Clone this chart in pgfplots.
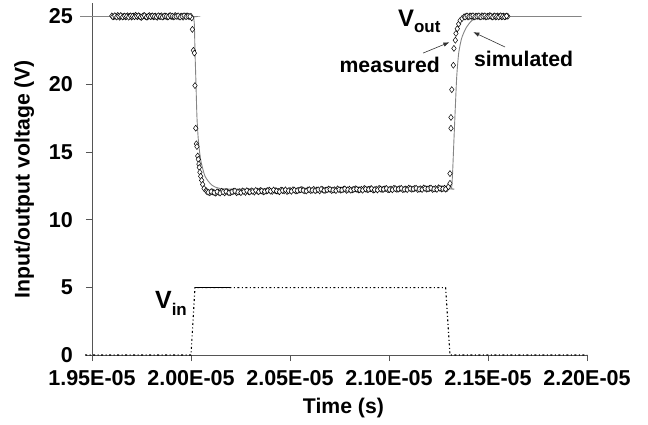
\documentclass[border=0pt]{standalone}
\usepackage{pgfplots}
\pgfplotsset{compat=1.18}
\usepackage{fontspec}
\setmainfont{Liberation Sans}
\usetikzlibrary{arrows.meta}
\definecolor{simgray}{HTML}{858585}
\definecolor{axgray}{HTML}{555555}
\begin{document}
\begin{tikzpicture}
\useasboundingbox (-92bp,-70bp) rectangle (556bp,355bp);
\begin{axis}[
  at={(0,0)}, anchor=south west,
  scale only axis, width=495bp, height=352bp,
  xmin=19.5, xmax=22.0, ymin=0, ymax=26,
  axis lines*=left,
  axis line style={axgray, line width=0.8bp},
  clip=false,
  xtick={19.5,20.0,20.5,21.0,21.5,22.0},
  xticklabels={1.95E-05,2.00E-05,2.05E-05,2.10E-05,2.15E-05,2.20E-05},
  ytick={0,5,10,15,20,25},
  tick align=outside,
  major tick length=6bp,
  tick style={axgray, line width=0.8bp},
  /pgf/number format/assume math mode=true,
  ticklabel style={font=\fontsize{21.6}{25}\selectfont\bfseries},
  xticklabel style={anchor=north, inner sep=0pt, yshift=-9bp},
  yticklabel style={anchor=east, inner sep=0pt, xshift=-13bp},
  xlabel={Time (s)},
  ylabel={Input/output voltage (V)},
  label style={font=\fontsize{21.3}{25}\selectfont\bfseries},
  xlabel style={at={(axis description cs:0.508,-0.150)}, anchor=center},
  ylabel style={at={(axis description cs:-0.137,0.50)}, anchor=center, rotate=0},
]
% measured Vout (diamonds)
\addplot[only marks, mark=diamond*, mark size=3bp,
  mark options={draw=black, fill=white, line width=0.5bp}] coordinates {
(19.600,25.05) (19.610,24.98) (19.620,25.02) (19.630,25.08) (19.640,24.95)
(19.650,25.03) (19.660,25.00) (19.670,24.97) (19.680,25.06) (19.690,25.01)
(19.700,24.96) (19.710,25.04) (19.720,25.09) (19.730,24.99) (19.740,25.02)
(19.750,24.94) (19.760,25.05) (19.770,25.00) (19.780,24.97) (19.790,25.07)
(19.800,25.02) (19.810,24.98) (19.820,25.04) (19.830,24.95) (19.840,25.01)
(19.850,25.06) (19.860,24.99) (19.870,25.03) (19.880,24.96) (19.890,25.05)
(19.900,25.00) (19.910,24.97) (19.920,25.08) (19.930,25.02) (19.940,24.98)
(19.950,25.04) (19.960,24.95) (19.970,25.03) (19.980,25.06) (19.990,24.99)
(20.000,25.02) (20.004,24.90)
(19.605,24.99) (19.615,25.06) (19.625,24.96) (19.635,25.03) (19.645,25.07)
(19.655,24.97) (19.665,25.04) (19.675,25.01) (19.685,24.95) (19.695,25.05)
(19.705,25.02) (19.715,24.98) (19.725,25.03) (19.735,25.06) (19.745,24.97)
(19.755,25.01) (19.765,25.07) (19.775,24.96) (19.785,25.03) (19.795,24.99)
(19.805,25.05) (19.815,25.01) (19.825,24.97) (19.835,25.06) (19.845,25.00)
(19.855,24.96) (19.865,25.04) (19.875,25.02) (19.885,24.98) (19.895,25.07)
(19.905,25.03) (19.915,24.99) (19.925,25.01) (19.935,25.05) (19.945,24.96)
(19.955,25.02) (19.965,25.06) (19.975,24.98) (19.985,25.03) (19.995,25.01)
(20.007,24.05) (20.012,22.50) (20.017,22.30) (20.020,19.90) (20.024,16.75)
(20.027,15.60) (20.030,15.40) (20.034,14.70) (20.037,14.45) (20.040,14.10)
(20.042,13.85) (20.045,13.50) (20.049,13.20) (20.054,12.90) (20.059,12.60)
(20.066,12.30) (20.076,12.15)
(20.080,12.08) (20.095,11.98) (20.110,12.05) (20.125,11.95) (20.140,12.02)
(20.155,12.10) (20.170,11.97) (20.185,12.04) (20.200,12.00) (20.215,12.09)
(20.230,11.99) (20.245,12.06) (20.260,12.12) (20.275,12.01) (20.290,12.07)
(20.305,12.13) (20.320,12.03) (20.335,12.10) (20.350,12.15) (20.365,12.05)
(20.380,12.11) (20.395,12.18) (20.410,12.08) (20.425,12.14) (20.440,12.09)
(20.455,12.19) (20.470,12.12) (20.485,12.07) (20.500,12.16) (20.515,12.21)
(20.530,12.11) (20.545,12.17) (20.560,12.23) (20.575,12.13) (20.590,12.19)
(20.605,12.14) (20.620,12.24) (20.635,12.18) (20.650,12.12) (20.665,12.22)
(20.680,12.17) (20.695,12.26) (20.710,12.15) (20.725,12.21) (20.740,12.27)
(20.755,12.18) (20.770,12.24) (20.785,12.16) (20.800,12.25) (20.815,12.20)
(20.830,12.28) (20.845,12.19) (20.860,12.24) (20.875,12.30) (20.890,12.21)
(20.905,12.27) (20.920,12.18) (20.935,12.25) (20.950,12.31) (20.965,12.22)
(20.980,12.28) (20.995,12.20) (21.010,12.26) (21.025,12.32) (21.040,12.23)
(21.055,12.29) (21.070,12.21) (21.085,12.27) (21.100,12.33) (21.115,12.24)
(21.130,12.30) (21.145,12.22) (21.160,12.28) (21.175,12.34) (21.190,12.25)
(21.205,12.31) (21.220,12.23) (21.235,12.29) (21.250,12.35) (21.265,12.26)
(21.280,12.32) (21.292,12.28)
(20.087,12.02) (20.102,12.07) (20.117,11.99) (20.132,12.06) (20.147,11.96)
(20.162,12.04) (20.177,12.08) (20.192,11.98) (20.207,12.05) (20.222,12.11)
(20.237,12.03) (20.252,11.99) (20.267,12.08) (20.282,12.14) (20.297,12.04)
(20.312,12.09) (20.327,12.16) (20.342,12.06) (20.357,12.12) (20.372,12.08)
(20.387,12.14) (20.402,12.10) (20.417,12.19) (20.432,12.12) (20.447,12.06)
(20.462,12.15) (20.477,12.20) (20.492,12.13) (20.507,12.09) (20.522,12.18)
(20.537,12.14) (20.552,12.20) (20.567,12.16) (20.582,12.11) (20.597,12.22)
(20.612,12.17) (20.627,12.13) (20.642,12.21) (20.657,12.25) (20.672,12.15)
(20.687,12.20) (20.702,12.23) (20.717,12.18) (20.732,12.14) (20.747,12.22)
(20.762,12.19) (20.777,12.27) (20.792,12.21) (20.807,12.17) (20.822,12.23)
(20.837,12.25) (20.852,12.20) (20.867,12.17) (20.882,12.26) (20.897,12.23)
(20.912,12.29) (20.927,12.21) (20.942,12.19) (20.957,12.26) (20.972,12.24)
(20.987,12.30) (21.002,12.22) (21.017,12.20) (21.032,12.28) (21.047,12.25)
(21.062,12.31) (21.077,12.24) (21.092,12.21) (21.107,12.29) (21.122,12.26)
(21.137,12.32) (21.152,12.25) (21.167,12.22) (21.182,12.30) (21.197,12.27)
(21.212,12.33) (21.227,12.26) (21.242,12.23) (21.257,12.31) (21.272,12.28)
(21.286,12.25)
(21.300,12.43) (21.308,12.68) (21.308,13.40) (21.313,16.75) (21.313,17.55)
(21.317,19.60) (21.325,21.40) (21.328,22.65) (21.335,23.25) (21.338,23.75)
(21.345,24.10) (21.352,24.45) (21.359,24.70) (21.369,24.85) (21.379,24.98)
(21.389,25.02) (21.399,24.97) (21.409,25.05) (21.419,25.00) (21.429,24.96)
(21.439,25.04) (21.449,25.01) (21.459,24.98) (21.469,25.06) (21.479,25.00)
(21.489,24.97) (21.499,25.03) (21.509,25.07) (21.519,24.99) (21.529,25.02)
(21.539,24.96) (21.549,25.05) (21.559,25.01) (21.569,24.98) (21.579,25.04)
(21.589,25.00) (21.600,25.02)
(21.384,24.96) (21.394,25.05) (21.404,24.99) (21.414,25.03) (21.424,25.06)
(21.434,24.98) (21.444,25.02) (21.454,25.05) (21.464,24.97) (21.474,25.03)
(21.484,25.06) (21.494,24.99) (21.504,25.01) (21.514,25.04) (21.524,24.97)
(21.534,25.05) (21.544,25.00) (21.554,24.97) (21.564,25.06) (21.574,25.01)
(21.584,24.98) (21.594,25.04)
};
% simulated Vout
\addplot[simgray, line width=0.9bp, smooth, tension=0.4] coordinates {
(19.440,25.00) (20.000,25.00) (20.012,24.95) (20.017,24.40) (20.020,22.50)
(20.025,20.10) (20.030,17.60) (20.037,15.90) (20.049,14.40) (20.071,13.20)
(20.105,12.55) (20.146,12.30) (20.250,12.26) (21.000,12.26) (21.312,12.27)
(21.316,12.30) (21.321,13.40) (21.328,15.90) (21.335,18.30) (21.342,20.55)
(21.352,22.30) (21.367,23.40) (21.389,24.15) (21.418,24.70) (21.460,24.98)
(21.520,25.00) (21.973,25.00)
};
% Vin
\addplot[black, line width=1.1bp, dash pattern=on 2bp off 2.5bp on 1bp off 2.5bp] coordinates {
(19.465,0) (20.000,0) (20.020,4.98) (21.286,4.98) (21.308,0) (22.000,0)
};
\addplot[black, line width=1.1bp] coordinates {(20.022,4.98) (20.197,4.98)};
% annotations
\node[anchor=base west, inner sep=0pt, font=\bfseries] at (axis cs:21.045,24.23)
  {\fontsize{24}{28}\selectfont V\raisebox{-6bp}{\fontsize{17}{20}\selectfont out}};
\node[anchor=base west, inner sep=0pt, font=\bfseries] at (axis cs:19.818,3.47)
  {\fontsize{25}{30}\selectfont V\raisebox{-7bp}{\fontsize{17}{20}\selectfont in}};
\node[anchor=base east, inner sep=0pt, font=\fontsize{21.3}{25}\selectfont\bfseries] at (axis cs:21.258,20.9) {measured};
\node[anchor=base west, inner sep=0pt, font=\fontsize{21.3}{25}\selectfont\bfseries] at (axis cs:21.429,21.34) {simulated};
\draw[black!80, line width=0.6bp, -{Latex[length=6bp,width=4.5bp]}] (axis cs:21.172,22.3) -- (axis cs:21.305,23.1);
\draw[black!80, line width=0.6bp, -{Latex[length=6bp,width=4.5bp]}] (axis cs:21.586,22.75) -- (axis cs:21.426,23.85);
\end{axis}
\end{tikzpicture}
\end{document}
